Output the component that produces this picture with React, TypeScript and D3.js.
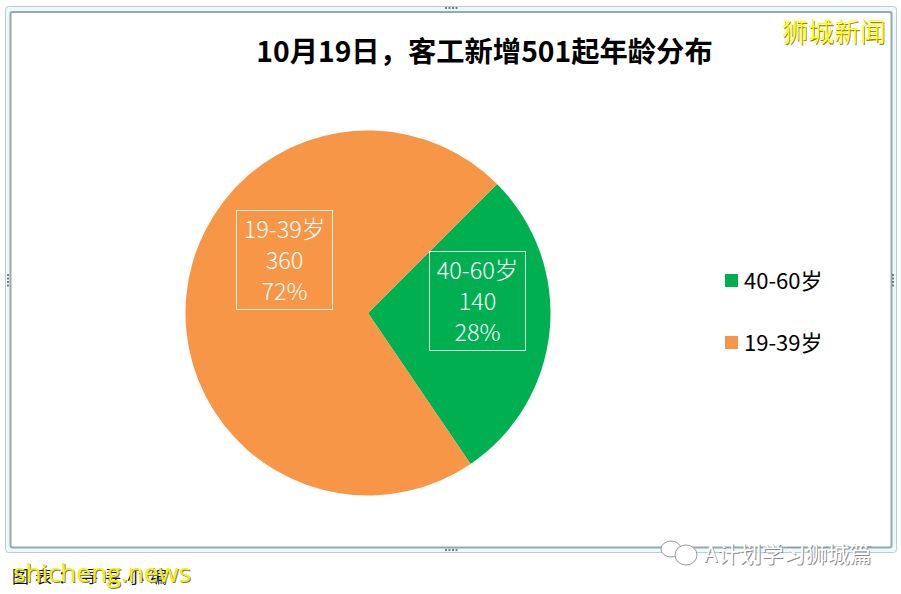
import * as d3 from 'd3';

const categories = ['40-60岁', '19-39岁'];
const values = [140, 360];
const percents = ['28%', '72%'];
const colors = ['#00b050', '#f79646'];
const title = '10月19日，客工新增501起年龄分布';

const width = 901;
const height = 594;
const cjk = '"Noto Sans CJK SC", "Noto Sans", sans-serif';

// label boxes sit by hand, same as in the source slide
const labelBoxes = [
    { x: 429.5, y: 251.5, w: 96, h: 99 },
    { x: 236.5, y: 210.5, w: 96, h: 99 },
];
const legendRows = [281, 343];

function Frame() {
    const handles = [
        [451, 8], [451, 550], [8, 280], [893, 280],
    ];
    return (
        <g fill="none">
            <rect x={5.5} y={6.5} width={891} height={546} rx={3} fill="#eef8f9" stroke="#b4ced3" />
            <rect x={10.5} y={12} width={881} height={535.5} rx={2} fill="#fff" stroke="#93abab" strokeWidth={2} />
            {handles.map(([x, y], i) => {
                const vertical = i > 1;
                return (
                    <g key={i} fill="#6f8080">
                        {[-5, -1.5, 2, 5.5].map((o) => (
                            <rect key={o} x={(vertical ? x : x + o) - 1} y={(vertical ? y + o : y) - 1} width={2} height={2} />
                        ))}
                    </g>
                );
            })}
        </g>
    );
}

export default function App() {
    const pie = d3.pie<number>().sort(null).startAngle(Math.PI / 4).endAngle(Math.PI / 4 + 2 * Math.PI);
    const arc = d3.arc<d3.PieArcDatum<number>>().innerRadius(0).outerRadius(182.5);
    const slices = pie(values);

    return (
        <svg width={width} height={height} style={{ position: 'absolute', left: 0, top: 0, background: '#fff' }}>
            <Frame />
            <text x={484.5} y={62} textAnchor="middle" fontFamily={cjk} fontWeight={700} fontSize={28.3}>{title}</text>

            <g transform="translate(368,313)">
                {slices.map((d, i) => (
                    <path key={categories[i]} d={arc(d) ?? ''} fill={colors[i]} />
                ))}
            </g>

            {labelBoxes.map((b, i) => {
                const cx = b.x + b.w / 2;
                return (
                    <g key={categories[i]} fill="#fff" fontFamily={cjk} fontSize={23.5} fontWeight={300} textAnchor="middle">
                        <rect x={b.x} y={b.y} width={b.w} height={b.h} fill="none" stroke="#fff" strokeOpacity={0.85} />
                        <text x={cx} y={b.y + 27}>{categories[i]}</text>
                        <text x={cx} y={b.y + 58}>{values[i]}</text>
                        <text x={cx} y={b.y + 89}>{percents[i]}</text>
                    </g>
                );
            })}

            {categories.map((c, i) => (
                <g key={c}>
                    <rect x={725} y={legendRows[i] - 7} width={13} height={13} fill={colors[i]} />
                    <text x={744} y={legendRows[i] + 8} fontFamily={cjk} fontSize={22}>{c}</text>
                </g>
            ))}

            <text x={12} y={583} fontFamily={cjk} fontSize={17} letterSpacing={6} fill="#111">图表：寻寻小编</text>

            {/* watermarks pasted over the screenshot */}
            <g fontFamily={cjk} fontSize={26} fontWeight={300}>
                <text x={782} y={41} fill="#a08c00" dx={1} dy={1.5}>狮城新闻</text>
                <text x={782} y={41} fill="#ffff00">狮城新闻</text>
            </g>
            <g fontFamily='"Open Sans", sans-serif' fontSize={26}>
                <text x={13} y={582} fill="#777" dx={1} dy={1}>shicheng.news</text>
                <text x={13} y={582} fill="#f7f000">shicheng.news</text>
            </g>
            <g fontFamily={cjk} fontSize={22}>
                <text x={704} y={562} fill="#8b8b8b" dx={1} dy={1}>A计划学习狮城篇</text>
                <text x={704} y={562} fill="#fff">A计划学习狮城篇</text>
                <g fill="#fff" stroke="#9a9a9a">
                    <ellipse cx={671} cy={549} rx={10} ry={8} />
                    <ellipse cx={686} cy={555} rx={11} ry={10} />
                </g>
            </g>
        </svg>
    );
}
